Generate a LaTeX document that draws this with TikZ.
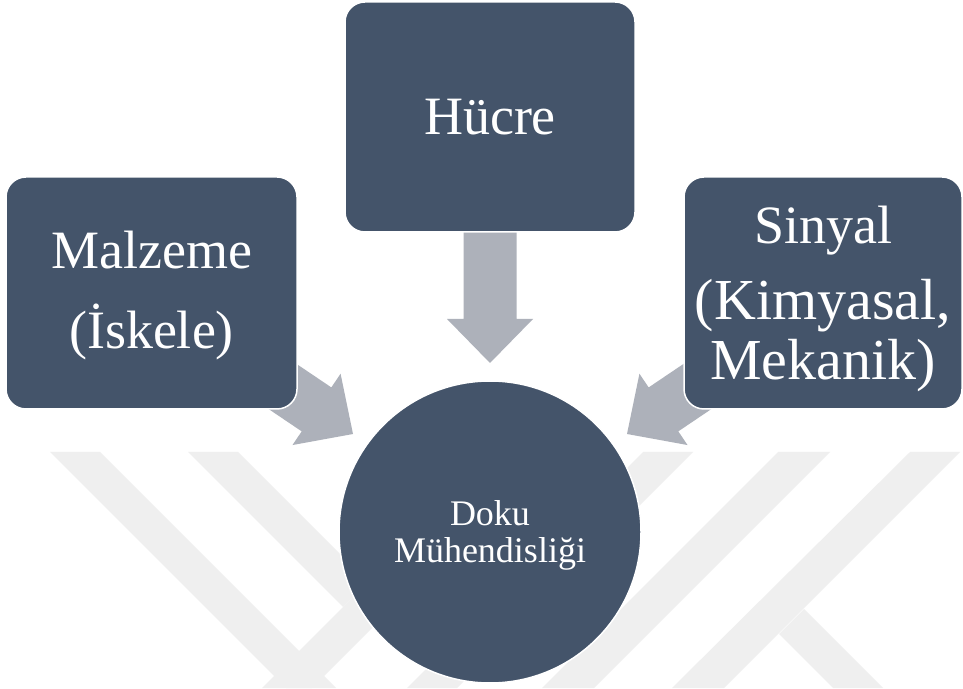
\documentclass[tikz,border=0pt]{standalone}
\usepackage{fontspec}
\setmainfont{Liberation Serif}
\definecolor{boxblue}{RGB}{68,84,106}
\definecolor{arrowgray}{RGB}{173,177,186}
\definecolor{wm}{RGB}{239,239,239}
\tikzset{
  box/.style={draw=white, line width=1.5pt, fill=boxblue, rounded corners=20pt,
    text=white, align=center, inner sep=0pt},
  hub/.style={circle, draw=white, line width=1.5pt, fill=boxblue,
    inner sep=0pt, minimum size=302pt},
  boxtext/.style={text=white, align=center, inner sep=0pt},
  wmband/.style={fill=wm},
  pics/blockarrow/.style={code={
    \fill[arrowgray] (0,0) -- (-44,43) -- (-44,26.5) -- (-#1,26.5) -- (-#1,-26.5)
      -- (-44,-26.5) -- (-44,-43) -- cycle;}}
}
\begin{document}
\begin{tikzpicture}[x=1pt,y=1pt]
\useasboundingbox (0,0) rectangle (963,688);
\fill[white] (0,0) rectangle (963,688);
% faint watermark bands (y = 688 - pixel row)
\fill[wmband] (50,236) -- (100,236) -- (336,0) -- (286,0) -- cycle;
\fill[wmband] (188,236) -- (238,236) -- (368,106) -- (343,81) -- cycle;
\fill[wmband] (498,236) -- (548,236) -- (312,0) -- (262,0) -- cycle;
\fill[wmband] (643,236) -- (693,236) -- (457,0) -- (407,0) -- cycle;
\fill[wmband] (778,236) -- (830,236) -- (594,0) -- (542,0) -- cycle;
\fill[wmband] (910,236) -- (960,236) -- (724,0) -- (672,0) -- cycle;
\fill[wmband] (804,79) -- (883,0) -- (833,0) -- (779,54) -- cycle;
% block arrows
\pic (aL) [rotate=-34] at (353,254) {blockarrow=110};
\pic (aR) [rotate=214] at (627,254) {blockarrow=110};
\pic (aM) [rotate=-90] at (490,325) {blockarrow=135};
% boxes
\node[box, minimum width=291pt, minimum height=232pt] (mal) at (151.5,395) {};
\node[boxtext, font=\fontsize{54}{80}\selectfont] (malt) at ([yshift=-3pt]mal.center)
  {Malzeme\\(İskele)};
\node[box, minimum width=290pt, minimum height=230pt,
  font=\fontsize{54}{65}\selectfont] (hucre) at (490,571) {Hücre};
\node[box, minimum width=278pt, minimum height=232pt] (sinyal) at (823,395) {};
\node[boxtext, font=\fontsize{54}{60}\selectfont] (sinyalt) at ([yshift=-6pt]sinyal.center)
  {Sinyal\\[16pt]{\fontsize{58}{60}\selectfont(Kimyasal,}\\{\fontsize{58}{60}\selectfont Mekanik)}};
\node[hub] (doku) at (490,156) {};
\node[boxtext, font=\fontsize{36}{37}\selectfont] (dokut) at ([yshift=-3pt]doku.center)
  {Doku\\Mühendisliği};
\end{tikzpicture}
\end{document}
